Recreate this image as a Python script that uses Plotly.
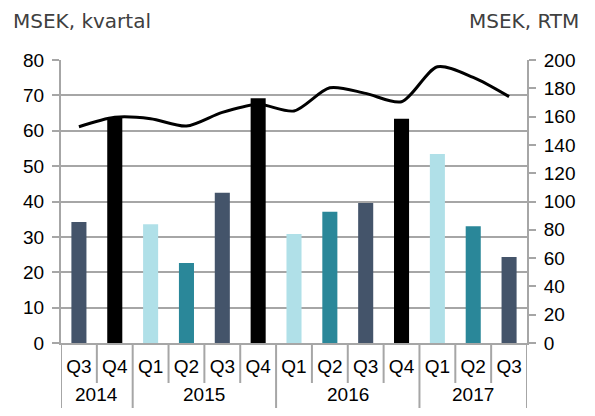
import plotly.graph_objects as go

years = ["2014", "2014", "2015", "2015", "2015", "2015", "2016", "2016", "2016", "2016", "2017", "2017", "2017"]
quarters = ["Q3", "Q4", "Q1", "Q2", "Q3", "Q4", "Q1", "Q2", "Q3", "Q4", "Q1", "Q2", "Q3"]
kvartal = [34.2, 63.6, 33.6, 22.6, 42.5, 69.2, 30.8, 37.1, 39.6, 63.4, 53.4, 33.0, 24.3]
rtm = [152.8, 159.5, 158.5, 153.3, 163.0, 168.7, 164.0, 180.4, 176.4, 170.5, 195.2, 187.7, 174.1]

qcolors = {"Q1": "#B0E0E8", "Q2": "#2A8799", "Q3": "#44546A", "Q4": "#000000"}
bar_colors = [qcolors[q] for q in quarters]

n = len(quarters)
idx = list(range(n))

# page body has an 8px default margin, so the figure is sized to fit inside it
FIG_W, FIG_H = 579, 400
M_L, M_T = 53, 52
PLOT_W, PLOT_H = 466, 283
M_R = FIG_W - M_L - PLOT_W
M_B = FIG_H - M_T - PLOT_H
grid = "#A6A6A6"

fig = go.Figure()
fig.add_trace(go.Bar(x=idx, y=kvartal, marker=dict(color=bar_colors, line=dict(width=0)),
                     width=0.42, showlegend=False))
fig.add_trace(go.Scatter(x=idx, y=rtm, yaxis="y2", mode="lines",
                         line=dict(color="#000000", width=3, shape="spline", smoothing=0.8),
                         showlegend=False))

# category boundary lines below the axis
shapes = []
for b in range(n + 1):
    pos = b - 0.5
    is_year_edge = b == 0 or b == n or years[b] != years[b - 1]
    y1 = -M_B / PLOT_H if is_year_edge else -40 / PLOT_H
    shapes.append(dict(type="line", xref="x", yref="paper", x0=pos, x1=pos, y0=0, y1=y1,
                       line=dict(color=grid, width=2)))

# year labels centered over their groups
annotations = []
groups = {}
for i, yv in enumerate(years):
    groups.setdefault(yv, []).append(i)
for yv, members in groups.items():
    annotations.append(dict(text=yv, xref="x", yref="paper", x=sum(members) / len(members),
                            y=-(M_B - 1) / PLOT_H, xanchor="center", yanchor="bottom",
                            showarrow=False,
                            font=dict(family="Liberation Sans, Arial", size=19, color="#000000")))

annotations += [
    dict(text="MSEK, kvartal", xref="paper", yref="paper", x=-50 / PLOT_W, y=1 + 39 / PLOT_H,
         xanchor="left", yanchor="middle", showarrow=False,
         font=dict(family="DejaVu Sans", size=20, color="#404040")),
    dict(text="MSEK, RTM", xref="paper", yref="paper", x=1 + 54 / PLOT_W, y=1 + 39 / PLOT_H,
         xanchor="right", yanchor="middle", showarrow=False,
         font=dict(family="DejaVu Sans", size=20, color="#404040")),
]

fig.update_layout(
    width=FIG_W, height=FIG_H,
    margin=dict(l=M_L, r=M_R, t=M_T, b=M_B, autoexpand=False),
    plot_bgcolor="white", paper_bgcolor="white",
    font=dict(family="Liberation Sans, Arial", size=19, color="#000000"),
    xaxis=dict(range=[-0.5, n - 0.5], tickvals=idx, ticktext=quarters, ticks="",
               showline=True, linecolor=grid, linewidth=2, showgrid=False, zeroline=False,
               ticklabelstandoff=5, fixedrange=True),
    yaxis=dict(range=[0, 80], dtick=10, showgrid=True, gridcolor=grid, gridwidth=2,
               showline=True, linecolor=grid, linewidth=2, ticks="outside", ticklen=7,
               tickcolor=grid, tickwidth=2, zeroline=False, fixedrange=True,
               ticklabelstandoff=4),
    yaxis2=dict(range=[0, 200], dtick=20, overlaying="y", side="right", showgrid=False,
                showline=True, linecolor=grid, linewidth=2, ticks="outside", ticklen=7,
                tickcolor=grid, tickwidth=2, zeroline=False, ticklabelstandoff=4),
    shapes=shapes,
    annotations=annotations,
)

fig.write_html("out.html")
